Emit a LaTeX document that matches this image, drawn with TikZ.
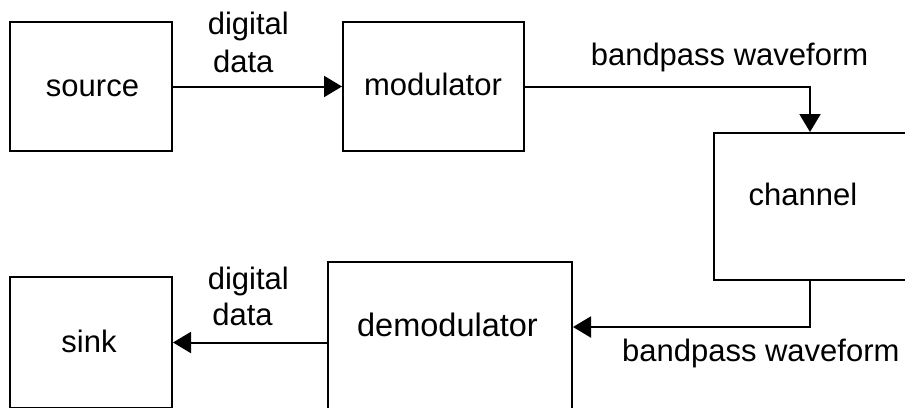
\documentclass[tikz,border=0pt]{standalone}
\usepackage{fontspec}
\setmainfont{Liberation Sans}
\usetikzlibrary{arrows.meta}
\begin{document}
\begin{tikzpicture}[x=1pt,y=-1pt,
  box/.style={draw,line width=2pt,inner sep=0pt},
  conn/.style={line width=2pt,-{Triangle[length=18pt,width=21pt]}},
  txt/.style={inner sep=0pt,anchor=base,font=\fontsize{31}{37}\selectfont}]
\useasboundingbox (0,0) rectangle (905,407);
\clip (0,0) rectangle (905,407);

% blocks
\node[box,minimum width=162pt,minimum height=129pt] (source) at (91,86.5) {};
\node[box,minimum width=181pt,minimum height=129pt] (modulator) at (433.5,86.5) {};
\node[box,minimum width=192pt,minimum height=147pt] (channel) at (810,206.5) {};
\node[box,minimum width=244pt,minimum height=161pt] (demod) at (450,342.5) {};
\node[box,minimum width=162pt,minimum height=131pt] (sink) at (91,342.5) {};

% block captions
\node[txt] (source-l) at (92.5,96) {source};
\node[txt] (mod-l) at (433,95) {modulator};
\node[txt] (chan-l) at (803,205) {channel};
\node[txt,font=\fontsize{32.5}{38}\selectfont] (demod-l) at (447.5,336.7) {demodulator};
\node[txt] (sink-l) at (89,352.7) {sink};

% signal labels
\node[txt] (dig1) at (248.3,34) {digital};
\node[txt] (dat1) at (243.3,72.7) {data};
\node[txt] (bw1) at (729.5,65) {bandpass waveform};
\node[txt] (dig2) at (248.3,289) {digital};
\node[txt] (dat2) at (242.5,325.7) {data};
\node[txt] (bw2) at (760.8,361.7) {bandpass waveform};

% connectors
\coordinate (turn) at (810,327);
\draw[conn] (source.east) -- (modulator.west);
\draw[conn] (modulator.east) -| (channel.north);
\draw[conn] (channel.south) -- (turn) -- (turn -| demod.east);
\draw[conn] (demod.west) -- (sink.east);
\end{tikzpicture}
\end{document}
